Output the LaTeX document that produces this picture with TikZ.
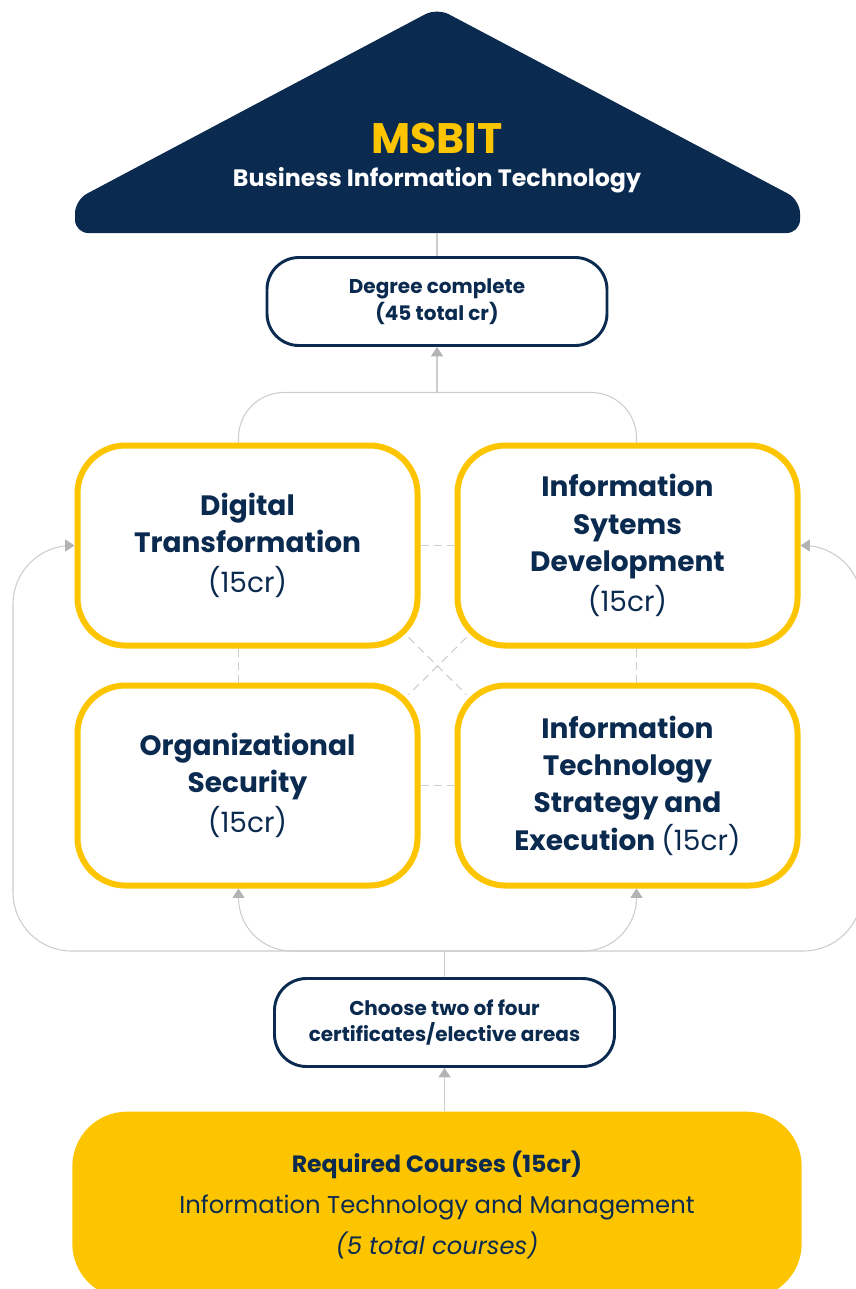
\documentclass[tikz,border=0pt]{standalone}
\usepackage{fontspec}
\setmainfont{Poppins}
\usetikzlibrary{arrows.meta,calc}
\definecolor{navy}{HTML}{0B2A4F}
\definecolor{gold}{HTML}{FDC400}
\definecolor{lgray}{HTML}{CDCDCD}
\definecolor{agray}{HTML}{B3B3B3}

\begin{document}
\begin{tikzpicture}[x=0.75pt,y=-0.75pt,
  area/.style={draw=gold,line width=4.5pt,fill=white,rounded corners=36pt,
    minimum width=255pt,minimum height=150pt,align=center,text=navy,
    font=\fontsize{21}{28}\selectfont\bfseries,inner sep=0pt},
  stepbox/.style={draw=navy,line width=2.2pt,fill=white,rounded corners=24pt,
    minimum width=255pt,minimum height=66pt,align=center,text=navy,
    font=\fontsize{15}{20}\selectfont\bfseries,inner sep=0pt},
  gline/.style={draw=lgray,line width=0.8pt},
  garrow/.style={gline,-{Triangle[width=9pt,length=7pt,color=agray]}},
  dline/.style={draw=lgray,line width=0.8pt,dash pattern=on 6pt off 4pt}]

\useasboundingbox (0,0) rectangle (856,1289);

% roof
\fill[navy,rounded corners=10pt] (437,8) -- (75,200) -- (75,233) -- (800,233) -- (800,200) -- cycle;
\node[text=gold,font=\fontsize{32}{32}\selectfont\bfseries] (title) at (437,138) {MSBIT};
\node[text=white,font=\fontsize{17.8}{18}\selectfont\bfseries] (subtitle) at (437,180) {Business Information Technology};
\coordinate (roofbase) at (437,233);

% steps
\node[stepbox] (degree) at (437,301.5) {Degree complete\\(45 total cr)};
\node[stepbox] (choose) at (444.5,1022.5) {Choose two of four\\certificates/elective areas};

% four areas
\node[area] (dt) at (247.5,545.5) {Digital\\Transformation\\[2pt]{\mdseries (15cr)}};
\node[area] (isd) at (627.5,545.5) {Information\\Sytems\\Development\\[2pt]{\mdseries (15cr)}};
\node[area] (os) at (247.5,785.5) {Organizational\\Security\\[2pt]{\mdseries (15cr)}};
\node[area] (itse) at (627.5,785.5) {Information\\Technology\\Strategy and\\Execution {\mdseries (15cr)}};

% required courses
\node[fill=gold,rounded corners=41pt,minimum width=547pt,minimum height=140pt,
  align=center,text=navy,font=\fontsize{18.2}{31}\selectfont] (req) at (437,1205)
  {{\fontsize{17.7}{31}\selectfont\bfseries Required Courses (15cr)}\\Information Technology and Management\\\itshape (5 total courses)};

% dashed links between areas
\draw[dline] (dt.east) -- (isd.west);
\draw[dline] (os.east) -- (itse.west);
\draw[dline] ($(dt.south)+(-9,0)$) -- ($(os.north)+(-9,0)$);
\draw[dline] ($(isd.south)+(9,0)$) -- ($(itse.north)+(9,0)$);
\draw[dline] ($(dt.south east)+(-12,-11)$) -- ($(itse.north west)+(12,12)$);
\draw[dline] ($(isd.south west)+(12,-11)$) -- ($(os.north east)+(-12,12)$);

% connectors
\coordinate (topjoin) at (437,393);
\coordinate (botjoin) at (444.5,951);
\coordinate (lout) at (13,700);
\coordinate (rout) at (862,700);
\draw[gline] (roofbase) -- (degree.north);
\draw[gline,rounded corners=34pt] ($(dt.north)+(-9,0)$) |- ($(isd.north)+(9,-50)$) -- ($(isd.north)+(9,0)$);
\draw[garrow] (topjoin) -- (degree.south);
\draw[gline] (choose.north) -- (botjoin);
\draw[garrow,rounded corners=40pt] (botjoin) -| ($(os.south)+(-9,0)$);
\draw[garrow,rounded corners=40pt] (botjoin) -| ($(itse.south)+(9,0)$);
\draw[garrow,rounded corners=44pt] (botjoin) -| (lout) |- (dt.west);
\draw[garrow,rounded corners=44pt] (botjoin) -| (rout) |- (isd.east);
\draw[garrow] (choose.south |- req.north) -- (choose.south);
\end{tikzpicture}
\end{document}
